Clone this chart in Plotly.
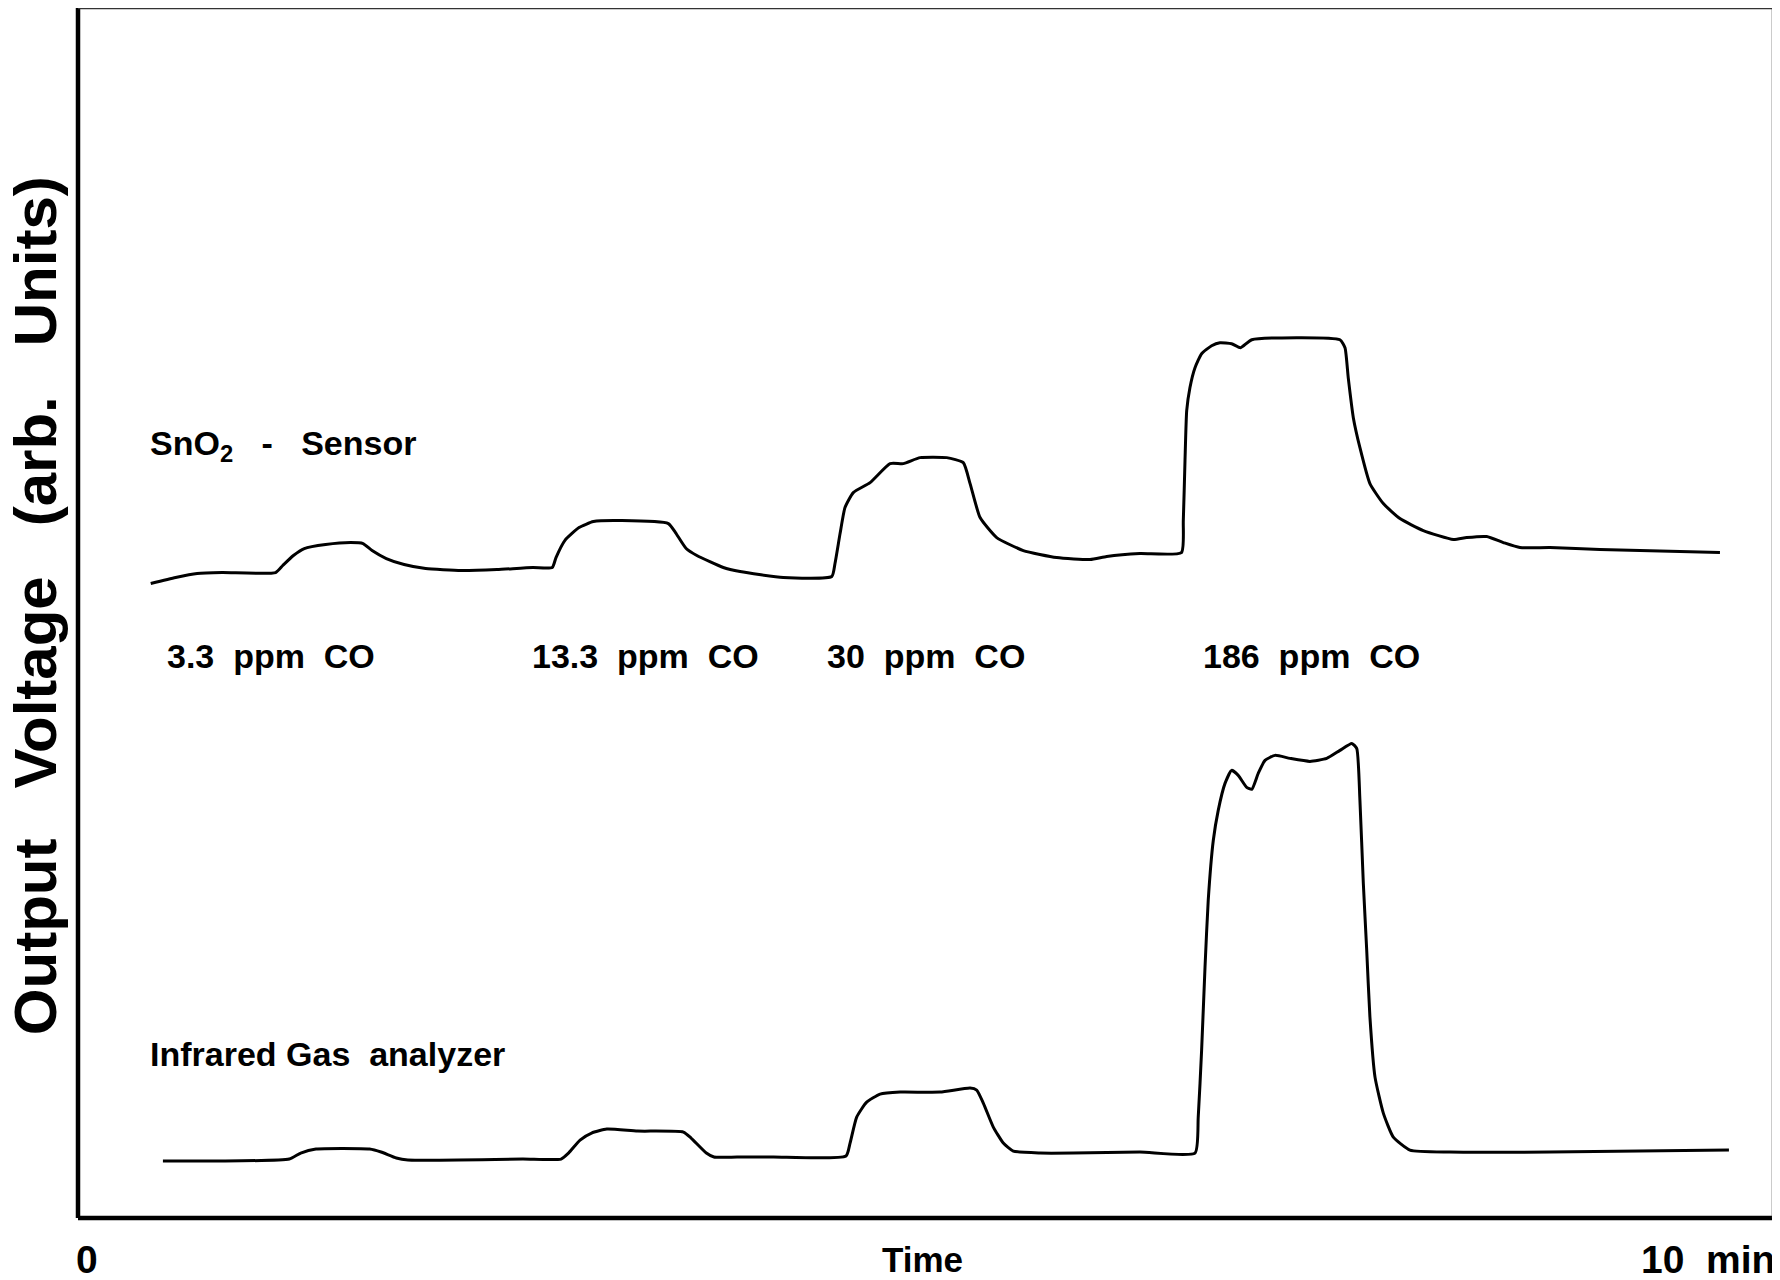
import plotly.graph_objects as go

# tiempo en minutos (0-10), salida en unidades arbitrarias
SENSOR_T = [0.429, 0.576, 0.703, 0.850, 1.166, 1.208, 1.271, 1.335, 1.461, 1.608, 1.682,
            1.735, 1.819, 1.924, 2.051, 2.261, 2.472, 2.683, 2.798, 2.820, 2.872, 2.956,
            3.041, 3.209, 3.483, 3.525, 3.588, 3.651, 3.807, 3.906, 4.161, 4.447, 4.466,
            4.496, 4.525, 4.574, 4.673, 4.791, 4.869, 4.968, 5.125, 5.223, 5.263, 5.322,
            5.420, 5.577, 5.774, 5.971, 6.069, 6.265, 6.510, 6.521, 6.531, 6.541, 6.560,
            6.590, 6.629, 6.688, 6.737, 6.806, 6.859, 6.925, 7.445, 7.475, 7.494, 7.524,
            7.563, 7.622, 7.701, 7.799, 7.937, 8.114, 8.193, 8.311, 8.409, 8.507, 8.684,
            8.979, 9.687]
SENSOR_V = [63.5, 64.1, 64.5, 64.6, 64.6, 65.3, 66.3, 67.0, 67.4, 67.6, 67.5,
            66.8, 66.0, 65.4, 65.0, 64.8, 64.9, 65.1, 65.1, 66.1, 67.8, 69.1,
            69.7, 69.8, 69.5, 68.6, 67.0, 66.3, 65.1, 64.7, 64.1, 64.2, 65.5,
            68.5, 71.1, 72.6, 73.6, 75.5, 75.5, 76.1, 76.1, 75.6, 73.5, 70.1,
            68.1, 66.8, 66.1, 65.9, 66.2, 66.5, 66.6, 69.8, 75.8, 80.8, 83.1,
            85.1, 86.5, 87.3, 87.6, 87.5, 87.1, 87.9, 87.9, 87.1, 84.1, 80.1,
            77.1, 73.5, 71.5, 70.0, 68.8, 67.9, 68.1, 68.2, 67.6, 67.1, 67.1,
            66.9, 66.6]

IR_T = [0.501, 0.817, 1.247, 1.314, 1.404, 1.720, 1.788, 1.878, 1.946, 2.624, 2.850,
        2.894, 2.962, 3.030, 3.120, 3.301, 3.572, 3.617, 3.707, 3.752, 3.888, 4.102,
        4.531, 4.555, 4.594, 4.653, 4.732, 4.850, 5.086, 5.263, 5.302, 5.341, 5.400,
        5.459, 5.518, 5.676, 5.872, 6.265, 6.590, 6.609, 6.629, 6.649, 6.668, 6.698,
        6.727, 6.767, 6.806, 6.845, 6.895, 6.925, 6.963, 7.003, 7.062, 7.150, 7.268,
        7.367, 7.445, 7.515, 7.544, 7.563, 7.583, 7.603, 7.622, 7.652, 7.701, 7.760,
        7.858, 8.094, 8.684, 9.740]
IR_V = [5.7, 5.7, 5.9, 6.5, 6.9, 6.9, 6.6, 6.0, 5.8, 5.9, 5.9,
        6.5, 7.8, 8.5, 8.9, 8.7, 8.6, 8.0, 6.5, 6.1, 6.1, 6.1,
        6.2, 7.5, 10.1, 11.6, 12.4, 12.6, 12.6, 13.0, 12.8, 11.5, 9.1,
        7.5, 6.7, 6.5, 6.5, 6.6, 6.5, 10.1, 16.8, 25.1, 31.8, 37.8,
        40.8, 43.5, 44.8, 44.3, 43.1, 42.9, 44.5, 45.8, 46.3, 46.0, 45.7,
        46.0, 46.8, 47.5, 47.0, 41.8, 33.5, 26.8, 20.1, 14.1, 10.5, 8.1,
        6.8, 6.6, 6.6, 6.8]

CONC_ETIQ = ["3.3&nbsp;&nbsp;ppm&nbsp;&nbsp;CO", "13.3&nbsp;&nbsp;ppm&nbsp;&nbsp;CO",
             "30&nbsp;&nbsp;ppm&nbsp;&nbsp;CO", "186&nbsp;&nbsp;ppm&nbsp;&nbsp;CO"]
CONC_T = [0.513, 2.667, 4.407, 6.625]
CONC_V = 56.2

FUENTE = "Liberation Sans, Arial, Helvetica, sans-serif"

fig = go.Figure()
for t, v in [(SENSOR_T, SENSOR_V), (IR_T, IR_V)]:
    fig.add_trace(go.Scatter(x=t, y=v, mode="lines", showlegend=False, hoverinfo="skip",
                             line=dict(color="black", width=3, shape="spline",
                                       smoothing=0.5)))

notas = [
    dict(x=0.413, y=77.3,
         text="<b>SnO<sub>2</sub>&nbsp;&nbsp;&nbsp;-&nbsp;&nbsp;&nbsp;Sensor</b>",
         xanchor="left", font=dict(size=34)),
    dict(x=0.413, y=16.4, text="<b>Infrared Gas&nbsp;&nbsp;analyzer</b>",
         xanchor="left", font=dict(size=34)),
]
for t, etiq in zip(CONC_T, CONC_ETIQ):
    notas.append(dict(x=t, y=CONC_V, text=f"<b>{etiq}</b>", xanchor="left",
                      font=dict(size=34)))
# rótulos del eje x, bajo el marco (en coordenadas de papel)
for x, texto, anc, tam, dx in [(0.0053, "0", "center", 39, 0),
                               (0.498, "Time", "center", 35, 0),
                               (1.0, "10&nbsp;&nbsp;min", "right", 39, 4)]:
    notas.append(dict(xref="paper", yref="paper", x=x, y=-0.034, text=f"<b>{texto}</b>",
                      xanchor=anc, xshift=dx, font=dict(size=tam)))
for n in notas:
    n["font"].update(family=FUENTE, color="black")
    fig.add_annotation(showarrow=False, yanchor="middle", **n)

# título del eje y, girado
fig.add_annotation(
    xref="paper", x=-0.025, y=61.3, textangle=-90, showarrow=False,
    text="<b>Output&nbsp;&nbsp;&nbsp;Voltage&nbsp;&nbsp;&nbsp;(arb.&nbsp;&nbsp;&nbsp;Units)</b>",
    xanchor="center", yanchor="middle",
    font=dict(family=FUENTE, size=60, color="black"))

# marco: izquierda y abajo gruesos, arriba y derecha finos
for x0, y0, x1, y1, w, c in [(0, 0, 0, 1, 4.5, "black"), (0, 0, 1, 0, 4.5, "black"),
                             (0, 1, 1, 1, 2.5, "#333"), (1, 0, 1, 1, 2.5, "#333")]:
    fig.add_shape(type="line", xref="paper", yref="paper", x0=x0, y0=y0, x1=x1, y1=y1,
                  line=dict(color=c, width=w))

fig.update_xaxes(range=[0, 10], showgrid=False, zeroline=False, showticklabels=False,
                 ticks="")
fig.update_yaxes(range=[0, 121.1], showgrid=False, zeroline=False, showticklabels=False,
                 ticks="")
# la página añade 8 px de margen: el lienzo se ajusta para que el marco caiga igual
fig.update_layout(width=1772, height=1272, margin=dict(l=70, r=7, t=0, b=62),
                  paper_bgcolor="white", plot_bgcolor="white")
fig.write_html("out.html")
